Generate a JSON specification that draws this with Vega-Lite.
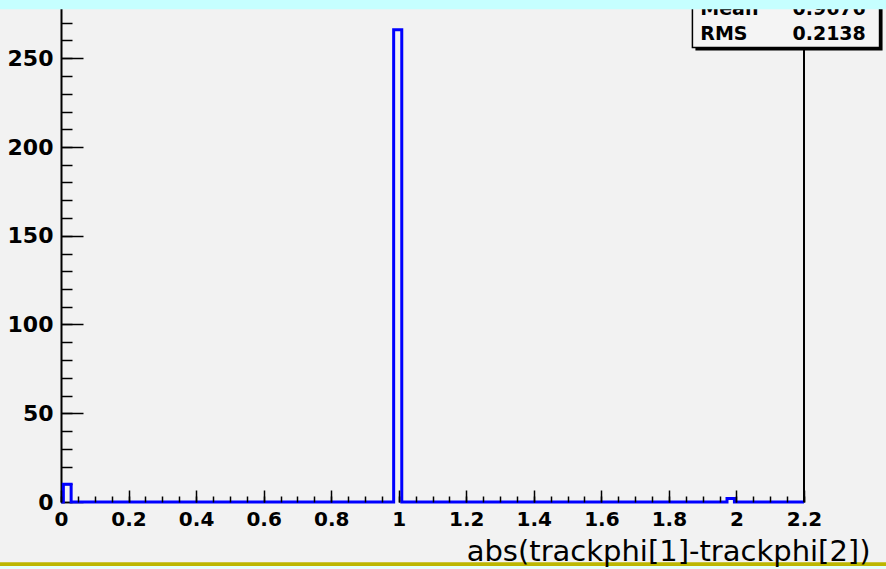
{
  "$schema": "https://vega.github.io/schema/vega-lite/v6.json",
  "width": 743,
  "height": 497,
  "autosize": {"type": "none"},
  "padding": {"left": 61, "top": 5, "right": 82, "bottom": 67},
  "background": "#f2f2f2",
  "config": {"view": {"stroke": null}, "axis": {"grid": false}},
  "resolve": {"axis": {"x": "independent", "y": "independent"}},
  "layer": [
    {
      "data": {"values": [
        {"x": 0, "n": 0},
        {"x": 0.007, "n": 10},
        {"x": 0.03, "n": 0},
        {"x": 0.985, "n": 266},
        {"x": 1.009, "n": 0},
        {"x": 1.972, "n": 2},
        {"x": 1.994, "n": 0},
        {"x": 2.2, "n": 0}
      ]},
      "mark": {"type": "line", "interpolate": "step-after", "color": "#0000ff", "strokeWidth": 3},
      "encoding": {
        "x": {"field": "x", "type": "quantitative",
          "scale": {"domain": [0, 2.2], "nice": false, "zero": false},
          "axis": {"orient": "bottom", "values": [0, 0.2, 0.4, 0.6, 0.8, 1, 1.2, 1.4, 1.6, 1.8, 2, 2.2],
            "labelExpr": "format(datum.value, '~g')", "domain": false, "tickSize": -12, "tickWidth": 1.5, "tickColor": "#000",
            "labelFont": "DejaVu Sans", "labelFontWeight": "bold", "labelFontSize": 20, "labelColor": "#000", "labelPadding": 19,
            "labelFlush": false, "labelOverlap": false,
            "title": "abs(trackphi[1]-trackphi[2])", "titleFont": "Comic Sans MS, DejaVu Sans", "titleFontWeight": "normal",
            "titleFontSize": 29, "titleColor": "#000", "titleAnchor": "end", "titleAlign": "right", "titleX": 809, "titleY": 58,
            "titleBaseline": "alphabetic", "zindex": 1}},
        "y": {"field": "n", "type": "quantitative",
          "scale": {"domain": [0, 280], "nice": false},
          "axis": {"orient": "left", "values": [0, 50, 100, 150, 200, 250], "domainColor": "#000", "domainWidth": 2,
            "tickSize": -22, "tickWidth": 1.5, "tickColor": "#000",
            "labelFont": "DejaVu Sans", "labelFontWeight": "bold", "labelFontSize": 22, "labelColor": "#000", "labelPadding": 30,
            "labelFlush": false, "labelOverlap": false, "title": null}}
      }
    },
    {
      "data": {"values": [{}]},
      "mark": {"type": "rule", "color": "#000", "strokeWidth": 2},
      "encoding": {
        "x": {"datum": 2.2, "type": "quantitative",
          "axis": {"orient": "bottom", "values": [0,0.05,0.1,0.15,0.2,0.25,0.3,0.35,0.4,0.45,0.5,0.55,0.6,0.65,0.7,0.75,0.8,0.85,0.9,0.95,1,1.05,1.1,1.15,1.2,1.25,1.3,1.35,1.4,1.45,1.5,1.55,1.6,1.65,1.7,1.75,1.8,1.85,1.9,1.95,2,2.05,2.1,2.15,2.2],
            "labels": false, "domain": false, "tickSize": -6, "tickWidth": 1.5, "tickColor": "#000", "title": null, "zindex": 1}},
        "y": {"datum": 0, "type": "quantitative",
          "axis": {"orient": "left", "values": [0,10,20,30,40,50,60,70,80,90,100,110,120,130,140,150,160,170,180,190,200,210,220,230,240,250,260,270,280],
            "labels": false, "domain": false, "tickSize": -11, "tickWidth": 1.5, "tickColor": "#000", "title": null}},
        "y2": {"datum": 280}
      }
    },
    {
      "data": {"values": [{}]},
      "mark": {"type": "rect", "color": "#000"},
      "encoding": {
        "x": {"datum": 1.8785, "type": "quantitative", "axis": null},
        "x2": {"datum": 2.4326},
        "y": {"datum": 254.3, "type": "quantitative", "axis": null},
        "y2": {"datum": 290}
      }
    },
    {
      "data": {"values": [{}]},
      "mark": {"type": "rect", "fill": "#f4f4f4", "stroke": "#000", "strokeWidth": 1.5},
      "encoding": {
        "x": {"datum": 1.8696, "type": "quantitative", "axis": null},
        "x2": {"datum": 2.4237},
        "y": {"datum": 256, "type": "quantitative", "axis": null},
        "y2": {"datum": 290}
      }
    },
    {
      "data": {"values": [{"label": "Mean", "val": "0.9676", "row": 274.2}, {"label": "RMS", "val": "0.2138", "row": 260.3}]},
      "layer": [
        {
          "mark": {"type": "text", "align": "left", "baseline": "alphabetic", "font": "DejaVu Sans", "fontWeight": "bold", "fontSize": 19, "color": "#000"},
          "encoding": {
            "x": {"datum": 1.893, "type": "quantitative", "axis": null},
            "y": {"field": "row", "type": "quantitative", "axis": null},
            "text": {"field": "label"}
          }
        },
        {
          "mark": {"type": "text", "align": "right", "baseline": "alphabetic", "font": "DejaVu Sans", "fontWeight": "bold", "fontSize": 19, "color": "#000"},
          "encoding": {
            "x": {"datum": 2.383, "type": "quantitative", "axis": null},
            "y": {"field": "row", "type": "quantitative", "axis": null},
            "text": {"field": "val"}
          }
        }
      ]
    },
    {
      "data": {"values": [{}]},
      "mark": {"type": "rect", "color": "#c6ffff"},
      "encoding": {
        "x": {"datum": -1, "type": "quantitative", "axis": null},
        "x2": {"datum": 3},
        "y": {"datum": 277.6, "type": "quantitative", "axis": null},
        "y2": {"datum": 330}
      }
    },
    {
      "data": {"values": [{}]},
      "mark": {"type": "rect", "color": "#e6fffb"},
      "encoding": {
        "x": {"datum": -1, "type": "quantitative", "axis": null},
        "x2": {"datum": 3},
        "y": {"datum": -36, "type": "quantitative", "axis": null},
        "y2": {"datum": -60}
      }
    },
    {
      "data": {"values": [{}]},
      "mark": {"type": "rect", "color": "#bdb600"},
      "encoding": {
        "x": {"datum": -1, "type": "quantitative", "axis": null},
        "x2": {"datum": 3},
        "y": {"datum": -34, "type": "quantitative", "axis": null},
        "y2": {"datum": -36}
      }
    }
  ]
}
